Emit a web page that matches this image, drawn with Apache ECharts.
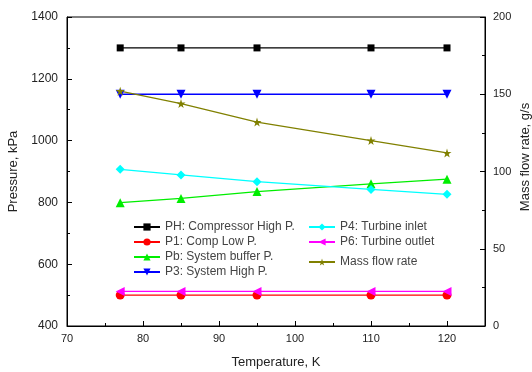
<!DOCTYPE html>
<html>
<head>
<meta charset="utf-8">
<script src="https://cdn.jsdelivr.net/npm/echarts@6/dist/echarts.min.js"></script>
<style>
  html, body { margin: 0; padding: 0; background: #fff; }
  #main { width: 532px; height: 372px; }
</style>
</head>
<body>
<div id="main"></div>
<script>
// 数据
var temperature = [77, 85, 95, 110, 120];
var pH = [1300, 1300, 1300, 1300, 1300];
var p1 = [500, 500, 500, 500, 500];
var pb = [799, 813, 835, 860, 875];
var p3 = [1150, 1150, 1150, 1150, 1150];
var p4 = [907, 889, 867, 842, 826];
var p6 = [512, 512, 512, 512, 512];
var massFlow = [152, 144, 132, 120, 112];

function pairs(ys) {
    return temperature.map(function (t, i) { return [t, ys[i]]; });
}

var starPath = 'path://M50,0 L61,35 L98,35 L68,57 L79,91 L50,70 L21,91 L32,57 L2,35 L39,35 Z';
var font = 'Liberation Sans, Arial, sans-serif';

var chart = echarts.init(document.getElementById('main'));

function mk(name, data, color, symbol, rotate, yIndex) {
    return {
        name: name,
        type: 'line',
        yAxisIndex: yIndex || 0,
        data: pairs(data),
        symbol: symbol,
        symbolSize: symbol === 'rect' ? 7 : 9,
        symbolRotate: rotate || 0,
        lineStyle: { color: color, width: 1.3 },
        itemStyle: { color: color },
        animation: false
    };
}

var legendText = { fontFamily: font, fontSize: 12, lineHeight: 12, color: '#444' };
var plain = function (v) { return String(v); };

var option = {
    animation: false,
    grid: {
        left: 67, right: 47, top: 17, bottom: 46,
        outerBoundsMode: 'none', containLabel: false,
        show: true, borderColor: '#000', borderWidth: 1
    },
    // 右轴标题
    graphic: [{
        type: 'text',
        x: 525, y: 157,
        rotation: Math.PI / 2,
        style: {
            text: 'Mass flow rate, g/s',
            font: '13px Liberation Sans, Arial, sans-serif',
            fill: '#222',
            align: 'center',
            verticalAlign: 'middle'
        }
    }],
    legend: [
        {
            data: ['PH: Compressor High P.', 'P1: Comp Low P.', 'Pb: System buffer P.', 'P3: System High P.'],
            orient: 'vertical', left: 133, top: 221, padding: 0,
            itemWidth: 26, itemHeight: 9, itemGap: 3,
            textStyle: legendText
        },
        {
            data: ['P4: Turbine inlet', 'P6: Turbine outlet'],
            orient: 'vertical', left: 308, top: 221, padding: 0,
            itemWidth: 26, itemHeight: 9, itemGap: 3,
            textStyle: legendText
        },
        {
            data: ['Mass flow rate'],
            orient: 'vertical', left: 308, top: 256, padding: 0,
            itemWidth: 26, itemHeight: 9,
            textStyle: legendText
        }
    ],
    xAxis: {
        type: 'value', min: 70, max: 125, interval: 10,
        name: 'Temperature, K', nameLocation: 'middle', nameGap: 30,
        nameTextStyle: { fontFamily: font, fontSize: 13, color: '#222' },
        axisLine: { lineStyle: { color: '#000', width: 1 } },
        axisTick: { inside: true, length: 5, lineStyle: { color: '#000' } },
        minorTick: { show: true, splitNumber: 2, length: 3, lineStyle: { color: '#000' } },
        axisLabel: { showMaxLabel: false, formatter: plain, fontFamily: font, fontSize: 11, color: '#222', margin: 7 },
        splitLine: { show: false }
    },
    yAxis: [
        {
            type: 'value', min: 400, max: 1400, interval: 200,
            name: 'Pressure, kPa', nameLocation: 'middle', nameGap: 44,
            nameTextStyle: { fontFamily: font, fontSize: 13, color: '#222' },
            axisLine: { show: true, lineStyle: { color: '#000', width: 1 } },
            axisTick: { show: true, inside: true, length: 5, lineStyle: { color: '#000' } },
            minorTick: { show: true, splitNumber: 2, length: 3, lineStyle: { color: '#000' } },
            axisLabel: { formatter: plain, fontFamily: font, fontSize: 12, color: '#222', margin: 9 },
            splitLine: { show: false }
        },
        {
            type: 'value', min: 0, max: 200, interval: 50, position: 'right',
            axisLine: { show: true, lineStyle: { color: '#000', width: 1 } },
            axisTick: { show: true, inside: true, length: 5, lineStyle: { color: '#000' } },
            minorTick: { show: true, splitNumber: 2, length: 3, lineStyle: { color: '#000' } },
            axisLabel: { formatter: plain, fontFamily: font, fontSize: 11, color: '#222', margin: 8 },
            splitLine: { show: false }
        }
    ],
    series: [
        mk('PH: Compressor High P.', pH, '#000000', 'rect'),
        mk('P1: Comp Low P.', p1, '#ff0000', 'circle'),
        mk('Pb: System buffer P.', pb, '#00ee00', 'triangle'),
        mk('P3: System High P.', p3, '#0000ff', 'triangle', 180),
        mk('P4: Turbine inlet', p4, '#00ffff', 'diamond'),
        mk('P6: Turbine outlet', p6, '#ff00ff', 'triangle', 90),
        mk('Mass flow rate', massFlow, '#808000', starPath, 0, 1)
    ]
};

chart.setOption(option);
</script>
</body>
</html>
